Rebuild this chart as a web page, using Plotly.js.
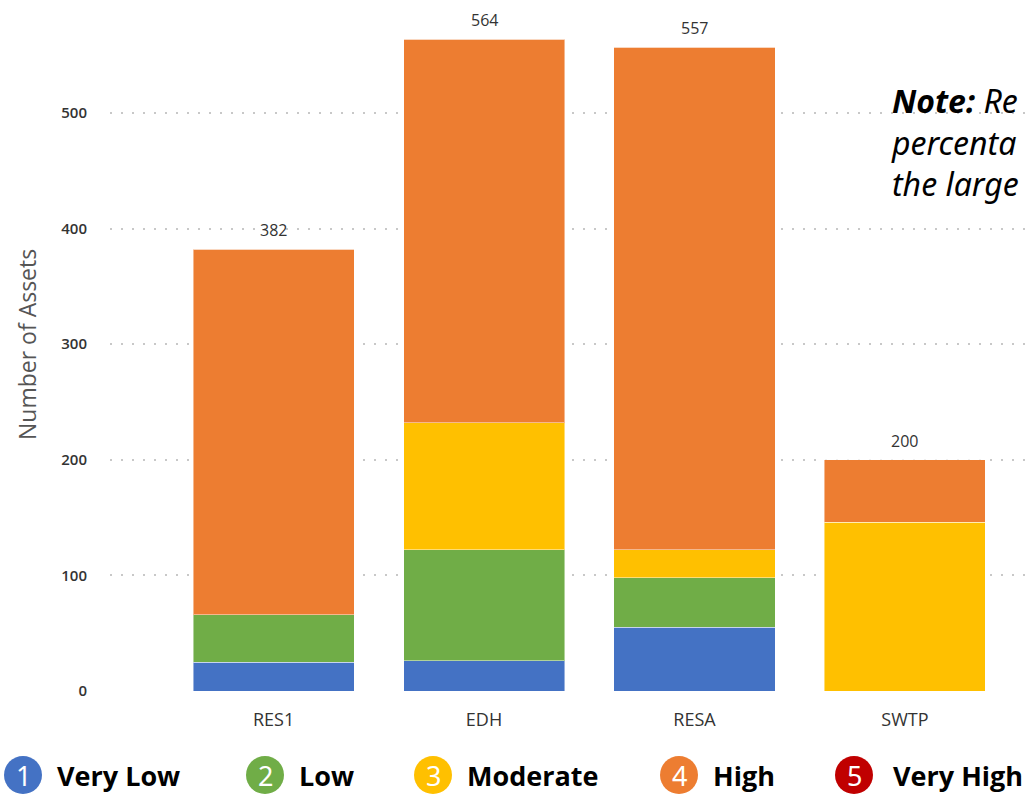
<!DOCTYPE html>
<html>
<head>
<meta charset="utf-8">
<script src="https://cdn.plot.ly/plotly-3.0.1.min.js"></script>
<style>html,body{margin:0;padding:0;background:#fff;overflow:hidden;}#chart{width:1034px;height:794px;}</style>
</head>
<body>
<div id="chart"></div>
<script>
const categories = ["RES1", "EDH", "RESA", "SWTP"];
const veryLow  = [25, 26, 55, 0];
const low      = [41, 96, 43, 0];
const moderate = [0, 110, 24, 146];
const high     = [316, 332, 435, 54];
const veryHigh = [0, 0, 0, 0];
const seriesNames = ["Very Low", "Low", "Moderate", "High", "Very High"];
const seriesColors = ["#4472C4", "#70AD47", "#FFC000", "#ED7D31", "#C00000"];
const yTicks = [0, 100, 200, 300, 400, 500];
const noteLines = ["<b>Note:</b> Re", "percenta", "the large"];

const seriesValues = [veryLow, low, moderate, high, veryHigh];
const totals = categories.map((c, i) => seriesValues.reduce((s, arr) => s + arr[i], 0));

// layout geometry (pixels)
const L = 110, W = 924, T = 0, H = 691;
const px = p => (p - L) / W;
const py = p => (H - p) / H;

const traces = seriesValues.map((vals, k) => ({
  type: "bar",
  name: seriesNames[k],
  x: categories,
  y: vals,
  marker: {color: seriesColors[k], line: {color: "rgba(255,255,255,0.45)", width: 1}},
  hoverinfo: "x+y+name"
}));

const annotations = [];
const shapes = [];

// totals above bars
categories.forEach((c, i) => {
  annotations.push({
    xref: "x", yref: "y", x: c, y: totals[i],
    text: String(totals[i]), showarrow: false,
    xanchor: "center", yanchor: "bottom", yshift: 6,
    font: {family: "Open Sans, sans-serif", size: 16, color: "#333"}
  });
});

annotations.push({
  xref: "paper", yref: "paper", x: px(27), y: py(345),
  text: "Number of Assets", textangle: -90, showarrow: false,
  font: {family: "Open Sans, sans-serif", size: 23, color: "#555"},
  xanchor: "center", yanchor: "middle"
});

annotations.push({
  xref: "paper", yref: "paper", x: px(889), y: py(142),
  text: noteLines.map(t => "<i>" + t + "</i>").join("<br>"),
  showarrow: false, xanchor: "left", yanchor: "middle", align: "left",
  font: {family: "Noto Sans, sans-serif", size: 32, color: "#000"}
});

// custom legend
const circleCx = [23, 265, 433, 679, 854];
const textX = [55, 297, 465, 711, 891];
const legY = 775, r = 19;
seriesNames.forEach((n, k) => {
  shapes.push({
    type: "circle", xref: "paper", yref: "paper",
    x0: px(circleCx[k] - r), x1: px(circleCx[k] + r),
    y0: py(legY + r), y1: py(legY - r),
    fillcolor: seriesColors[k], line: {width: 0}
  });
  annotations.push({
    xref: "paper", yref: "paper", x: px(circleCx[k]), y: py(legY),
    text: String(k + 1), showarrow: false, xanchor: "center", yanchor: "middle",
    font: {family: "Noto Sans, sans-serif", size: 27, color: "#fff"}
  });
  annotations.push({
    xref: "paper", yref: "paper", x: px(textX[k]), y: py(legY),
    text: "<b>" + n + "</b>", showarrow: false, xanchor: "left", yanchor: "middle",
    font: {family: "Open Sans, sans-serif", size: 27, color: "#000"}
  });
});

const layout = {
  width: 1034, height: 794,
  margin: {l: L, r: 0, t: T, b: 794 - H, pad: 0},
  paper_bgcolor: "#fff", plot_bgcolor: "#fff",
  barmode: "stack",
  bargap: 0.235,
  showlegend: false,
  xaxis: {
    type: "category",
    range: [-0.777, 3.613],
    showgrid: false, zeroline: false, showline: false,
    ticks: "outside", ticklen: 12, tickcolor: "rgba(0,0,0,0)",
    tickfont: {family: "Open Sans, sans-serif", size: 18, color: "#333"}
  },
  yaxis: {
    range: [0, 597.8],
    tickvals: yTicks,
    showgrid: true, gridcolor: "#c8c8c8", gridwidth: 2, griddash: "2px,9px",
    zeroline: false, showline: false,
    ticks: "outside", ticklen: 19, tickcolor: "rgba(0,0,0,0)",
    tickfont: {family: "Open Sans, sans-serif", size: 15, color: "#333", weight: 600}
  },
  annotations: annotations,
  shapes: shapes
};

Plotly.newPlot("chart", traces, layout, {displayModeBar: false, staticPlot: true});
</script>
</body>
</html>
